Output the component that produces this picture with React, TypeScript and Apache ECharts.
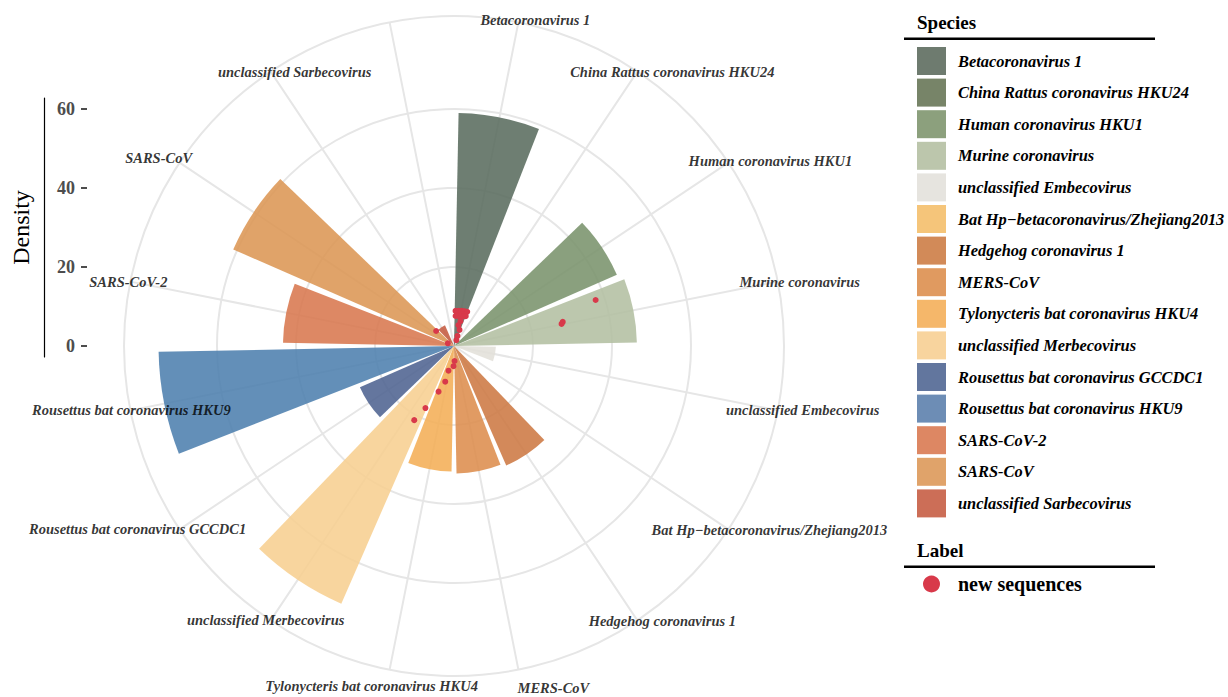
import React, { useEffect, useRef } from 'react';
import * as echarts from 'echarts';

// ---------- data ----------
const species = [
  'Betacoronavirus 1',
  'China Rattus coronavirus HKU24',
  'Human coronavirus HKU1',
  'Murine coronavirus',
  'unclassified Embecovirus',
  'Bat Hp\u2212betacoronavirus/Zhejiang2013',
  'Hedgehog coronavirus 1',
  'MERS-CoV',
  'Tylonycteris bat coronavirus HKU4',
  'unclassified Merbecovirus',
  'Rousettus bat coronavirus GCCDC1',
  'Rousettus bat coronavirus HKU9',
  'SARS-CoV-2',
  'SARS-CoV',
  'unclassified Sarbecovirus',
];
const density = [59, 0.4, 45, 46.3, 10.6, 0.4, 33, 32.3, 31.8, 71.2, 26, 74.8, 43.3, 61, 5.7];
// theta slots (one empty slot at the end, as in the original)
const thetaCategories = [...species, ''];
const densityTicks = [0, 20, 40, 60];

// new sequences: angle (degrees clockwise from top) and density
const seqAngle = [
  2.5, 7.3, 12.1, 16.7, 21.1,
  5, 10, 15, 20,
  3, 8, 13, 18, 21.5,
  14.6, 12, 19, 19, 22,
  77.5, 78.4, 72,
  178, 181.4, 192.6, 193.8, 198.7, 204.7, 208.2,
  310, 293.5,
];
const seqDensity = [
  8.9, 9.0, 9.1, 9.2, 9.3,
  8.3, 8.3, 8.4, 8.4,
  7.6, 7.7, 7.8, 7.9, 8.1,
  6.5, 5.4, 4.3, 2.7, 1.6,
  28.2, 27.8, 37.7,
  3.8, 5.1, 6.4, 9.3, 12.2, 17.3, 21.3,
  5.9, 1.7,
];

// ---------- styles / layout ----------
const FONT = "'Liberation Serif', 'Times New Roman', Times, serif";
const barColors = ['#5A6C5E', '#647353', '#7A936C', '#B3BFA2', '#E3E0D9', '#F4BD68', '#CD7943', '#DD8D4D', '#F4AE56', '#F7CF91', '#4E6391', '#4D7FAE', '#D8774E', '#DC9654', '#C55B41'];
const legendColors = ['#6E7B6F', '#778468', '#8CA07D', '#BCC6AC', '#E6E4DF', '#F5C57A', '#D28A58', '#E09A60', '#F5B76A', '#F8D49E', '#62769E', '#6D8DB5', '#DD8763', '#E0A36A', '#CC6E57'];
const POINT_COLOR = '#D8394A';
const GRID_COLOR = '#E6E6E6';
const CX = 454;
const CY = 346;
const R = 330; // outer circle, px
const UNIT = 3.95; // px per density unit
const RMAX = R / UNIT;
const SLOT = 360 / thetaCategories.length;
// pixel nudges of the theta labels (layout only)
const LABEL_NUDGE: number[][] = [
  [17, -2], [35, 0], [42, -2], [22, 0], [25, 0], [41, 1], [25, 1], [35, 18],
  [-18, 16], [-5, 0], [-42, 0], [1, 0], [-2, 0], [-21, -5], [24, 0],
];

const hiddenAngle = {
  axisLine: { show: false }, axisTick: { show: false }, axisLabel: { show: false }, splitLine: { show: false },
};
const hiddenRadius = {
  axisLine: { show: false }, axisTick: { show: false }, axisLabel: { show: false }, splitLine: { show: false },
};

function buildOption() {
  const barSeries = species.map((s, i) => ({
    type: 'bar',
    name: s,
    coordinateSystem: 'polar',
    polarIndex: 0,
    stack: 'species',
    barCategoryGap: '10%',
    data: thetaCategories.map((_, j) => (j === i ? density[i] : '-')),
    itemStyle: { color: barColors[i], opacity: 0.88 },
    silent: true,
    z: 2,
  }));

  const labelSeries = {
    type: 'scatter',
    name: 'theta labels',
    coordinateSystem: 'polar',
    polarIndex: 1,
    symbolSize: 1,
    itemStyle: { color: 'rgba(0,0,0,0)' },
    silent: true,
    z: 6,
    data: species.map((s, i) => ({
      name: s,
      value: [RMAX, (i + 0.5) * SLOT],
      label: { offset: LABEL_NUDGE[i] },
    })),
    label: {
      show: true,
      position: 'inside',
      formatter: '{b}',
      fontFamily: FONT,
      fontWeight: 'bold',
      fontStyle: 'italic',
      fontSize: 14.5,
      color: '#000',
    },
  };

  const pointSeries = {
    type: 'scatter',
    name: 'new sequences',
    coordinateSystem: 'polar',
    polarIndex: 1,
    symbol: 'circle',
    symbolSize: 6,
    itemStyle: { color: POINT_COLOR, opacity: 1 },
    silent: true,
    z: 5,
    data: seqAngle.map((a, i) => [seqDensity[i], a]),
  };

  return {
    animation: false,
    backgroundColor: '#fff',
    polar: [
      { center: [CX, CY], radius: R },
      { center: [CX, CY], radius: R },
      { center: [CX, CY], radius: 60 * UNIT },
      { center: [CX, CY], radius: R },
    ],
    angleAxis: [
      { polarIndex: 0, type: 'category', data: thetaCategories, startAngle: 90, clockwise: true, boundaryGap: true, ...hiddenAngle },
      { polarIndex: 1, type: 'value', min: 0, max: 360, startAngle: 90, clockwise: true, ...hiddenAngle },
      { polarIndex: 2, type: 'value', min: 0, max: 360, startAngle: 90, ...hiddenAngle },
      {
        polarIndex: 3, type: 'value', min: 0, max: 360, interval: SLOT, startAngle: 90 - SLOT / 2, clockwise: true,
        axisLine: { show: true, lineStyle: { color: GRID_COLOR, width: 2 } },
        axisTick: { show: false }, axisLabel: { show: false },
        splitLine: { show: true, lineStyle: { color: GRID_COLOR, width: 2 } },
        z: 0,
      },
    ],
    radiusAxis: [
      { polarIndex: 0, type: 'value', min: 0, max: RMAX, ...hiddenRadius },
      { polarIndex: 1, type: 'value', min: 0, max: RMAX, ...hiddenRadius },
      {
        polarIndex: 2, type: 'value', min: 0, max: 60, interval: 20,
        axisLine: { show: false }, axisTick: { show: false }, axisLabel: { show: false },
        splitLine: { show: true, lineStyle: { color: GRID_COLOR, width: 2 } },
        z: 0,
      },
      { polarIndex: 3, type: 'value', min: 0, max: RMAX, ...hiddenRadius },
    ],
    grid: [
      { left: 87, top: CY - 60 * UNIT, width: 10, height: 60 * UNIT },
      { left: 44, top: 98, width: 10, height: 259 },
    ],
    xAxis: [
      { gridIndex: 0, type: 'value', show: false },
      { gridIndex: 1, type: 'value', show: false },
    ],
    yAxis: [
      {
        gridIndex: 0, type: 'value', min: densityTicks[0], max: densityTicks[densityTicks.length - 1], interval: 20,
        axisLine: { show: false },
        axisTick: { show: true, length: 6, lineStyle: { color: '#4D4D4D', width: 2 } },
        axisLabel: { color: '#4D4D4D', fontFamily: FONT, fontWeight: 'bold', fontSize: 18, margin: 12 },
        splitLine: { show: false },
      },
      {
        gridIndex: 1, type: 'value', min: -2.5, max: 63,
        axisLine: { show: true, lineStyle: { color: '#000', width: 1.2 } },
        axisTick: { show: false }, axisLabel: { show: false }, splitLine: { show: false },
        name: 'Density', nameLocation: 'middle', nameGap: 11,
        nameTextStyle: { fontFamily: FONT, fontSize: 24, color: '#000' },
      },
    ],
    legend: [
      {
        orient: 'vertical', left: 917, top: 47, padding: 0,
        itemWidth: 29, itemHeight: 28, itemGap: 3.6, icon: 'rect', selectedMode: false,
        data: species.map((s, i) => ({ name: s, itemStyle: { color: legendColors[i], opacity: 1 } })),
        textStyle: { fontFamily: FONT, fontWeight: 'bold', fontStyle: 'italic', fontSize: 16.4, color: '#000', padding: [0, 0, 0, 7] },
      },
      {
        orient: 'vertical', left: 923, top: 574, padding: 0,
        itemWidth: 17, itemHeight: 17, selectedMode: false,
        data: [{ name: 'new sequences', icon: 'circle', itemStyle: { color: POINT_COLOR, opacity: 1 } }],
        textStyle: { fontFamily: FONT, fontWeight: 'bold', fontSize: 20, color: '#000', padding: [0, 0, 0, 13] },
      },
    ],
    graphic: [
      { type: 'text', x: 917, y: 22, style: { text: 'Species', font: `bold 19px ${FONT}`, fill: '#000', verticalAlign: 'middle' } },
      { type: 'rect', shape: { x: 904, y: 37.5, width: 251, height: 2.5 }, style: { fill: '#000' } },
      { type: 'text', x: 917, y: 550, style: { text: 'Label', font: `bold 19px ${FONT}`, fill: '#000', verticalAlign: 'middle' } },
      { type: 'rect', shape: { x: 904, y: 565.5, width: 251, height: 2.5 }, style: { fill: '#000' } },
    ],
    series: [...barSeries, pointSeries, labelSeries],
  };
}

export default function App() {
  const ref = useRef<HTMLDivElement>(null);
  useEffect(() => {
    if (!ref.current) return;
    const chart = echarts.init(ref.current, null, { renderer: 'svg' });
    chart.setOption(buildOption() as any);
    return () => chart.dispose();
  }, []);
  return (
    <div
      ref={ref}
      style={{ position: 'fixed', left: 0, top: 0, width: 1228, height: 697, background: '#fff' }}
    />
  );
}
